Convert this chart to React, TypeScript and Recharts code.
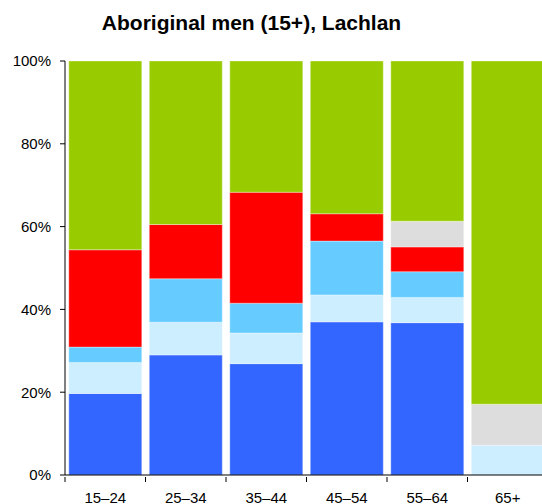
import { BarChart, Bar, XAxis, YAxis } from 'recharts';

const ageGroups = ['15–24', '25–34', '35–44', '45–54', '55–64', '65+'];
const seriesBlue = [19.7, 29.0, 26.9, 37.0, 36.8, 0];
const seriesPaleBlue = [7.5, 7.9, 7.4, 6.5, 6.1, 7.2];
const seriesSky = [3.7, 10.5, 7.2, 13.0, 6.2, 0];
const seriesRed = [23.5, 13.1, 26.8, 6.6, 6.0, 0];
const seriesGrey = [0, 0, 0, 0, 6.2, 9.9];
const seriesGreen = [45.6, 39.5, 31.7, 36.9, 38.7, 82.9];
const yTicks = [0, 20, 40, 60, 80, 100];

const data = ageGroups.map((name, i) => ({
    name,
    blue: seriesBlue[i],
    paleBlue: seriesPaleBlue[i],
    sky: seriesSky[i],
    red: seriesRed[i],
    grey: seriesGrey[i],
    green: seriesGreen[i],
}));

const font = '"Liberation Sans", Arial, Helvetica, sans-serif';
const edge = 'rgba(255,255,255,0.35)';

const AgeTick = (props: any) => {
    const { x, y, payload, width, visibleTicksCount } = props;
    const band = width / (visibleTicksCount || ageGroups.length);
    return (
        <g>
            <line x1={x - band / 2} x2={x - band / 2} y1={y - 6} y2={y - 1} stroke="#000" />
            <text x={x} y={y + 20} textAnchor="middle" fontSize={15} fontFamily={font} fill="#000">
                {payload.value}
            </text>
        </g>
    );
};

const App = () => {
    return (
        <div style={{ position: 'fixed', left: 0, top: 0, width: 542, height: 504, overflow: 'hidden', background: '#fff' }}>
            <div
                style={{
                    position: 'absolute',
                    left: 0,
                    width: 503,
                    top: 11,
                    textAlign: 'center',
                    fontFamily: font,
                    fontWeight: 'bold',
                    fontSize: 21,
                    lineHeight: '24px',
                    color: '#000',
                }}
            >
                Aboriginal men (15+), Lachlan
            </div>
            <BarChart
                width={548}
                height={504}
                data={data}
                margin={{ top: 61, right: 0, left: 0, bottom: 0 }}
                barCategoryGap="4.7%"
            >
                <XAxis
                    dataKey="name"
                    height={29}
                    stroke="#000"
                    tickLine={false}
                    tick={<AgeTick />}
                    interval={0}
                />
                <YAxis
                    width={65}
                    domain={[0, 100]}
                    ticks={yTicks}
                    tickFormatter={(v: number) => `${v}%`}
                    stroke="#000"
                    tickSize={5}
                    tickMargin={9}
                    tick={{ fill: '#000', fontSize: 15, fontFamily: font }}
                    allowDataOverflow
                />
                <Bar dataKey="blue" stackId="a" fill="#3366FF" stroke={edge} isAnimationActive={false} />
                <Bar dataKey="paleBlue" stackId="a" fill="#CCEEFF" stroke={edge} isAnimationActive={false} />
                <Bar dataKey="sky" stackId="a" fill="#66CCFF" stroke={edge} isAnimationActive={false} />
                <Bar dataKey="red" stackId="a" fill="#FF0000" stroke={edge} isAnimationActive={false} />
                <Bar dataKey="grey" stackId="a" fill="#DDDDDD" stroke={edge} isAnimationActive={false} />
                <Bar dataKey="green" stackId="a" fill="#99CC00" stroke={edge} isAnimationActive={false} />
            </BarChart>
        </div>
    );
};

export default App;
